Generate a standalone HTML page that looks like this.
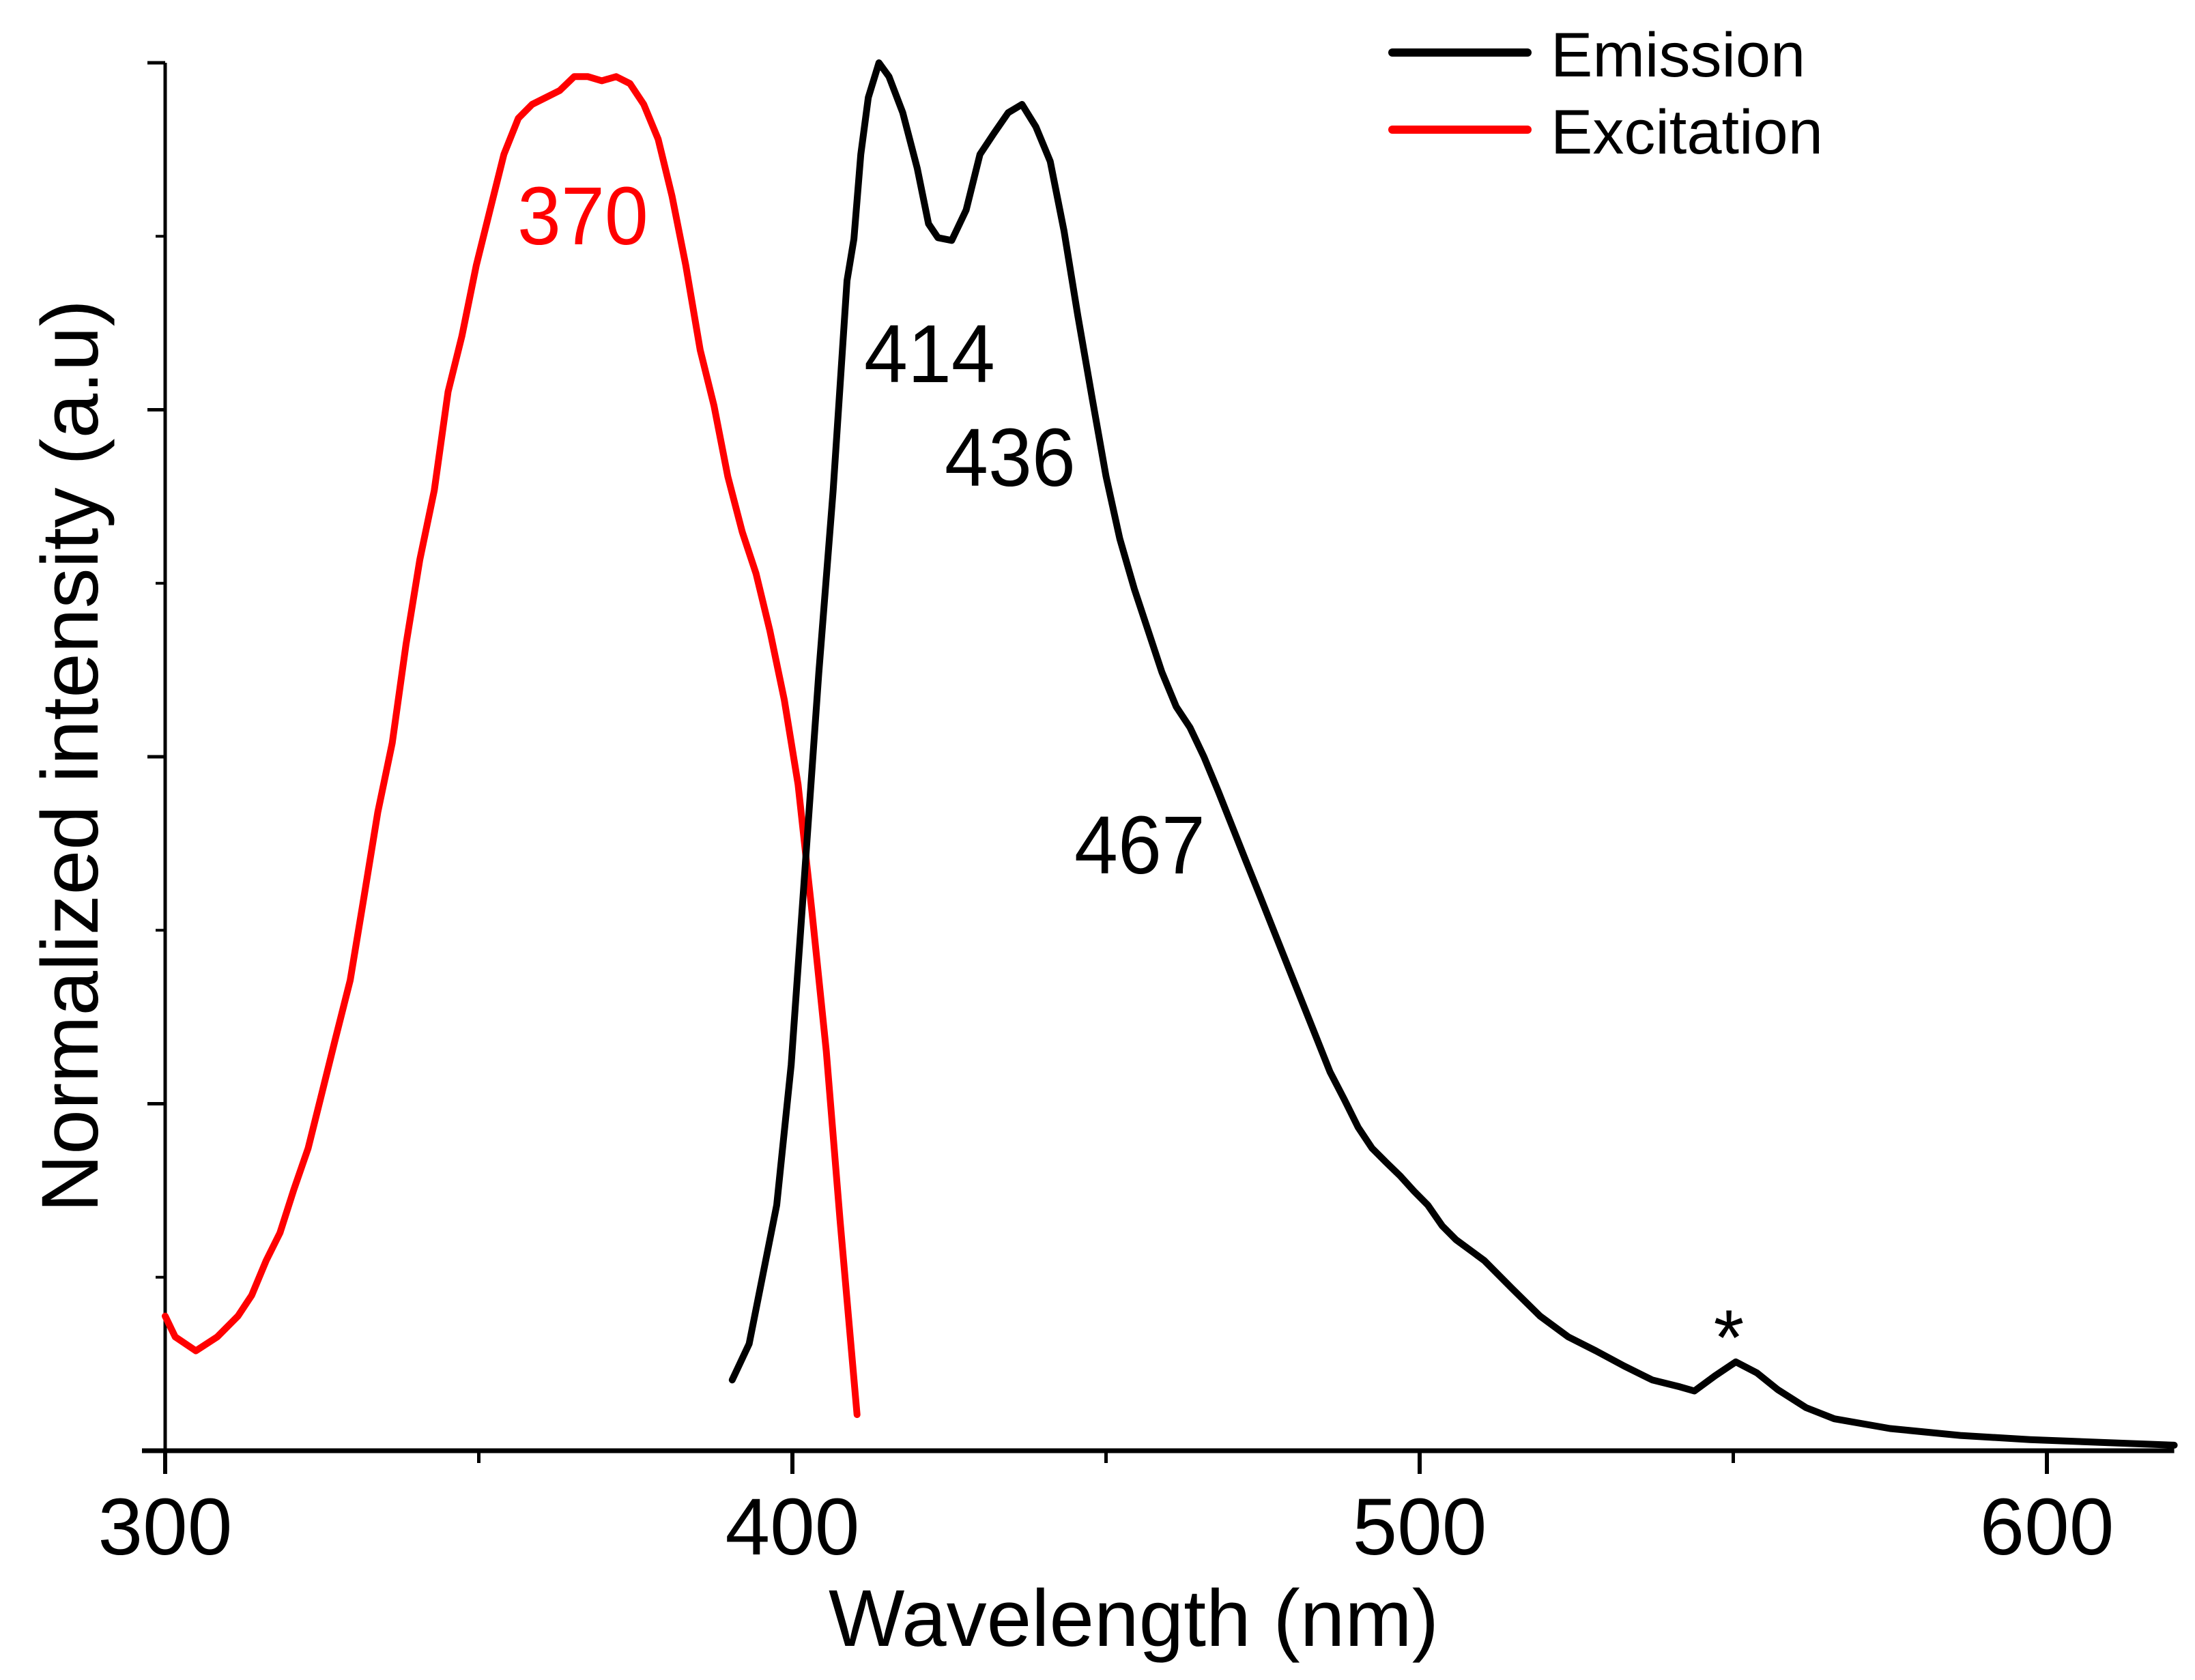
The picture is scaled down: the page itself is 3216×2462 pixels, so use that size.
<!DOCTYPE html>
<html><head><meta charset="utf-8"><style>
html,body{margin:0;padding:0;background:#fff;}
svg{display:block;font-family:"Liberation Sans",Arial,sans-serif;}
</style></head><body>
<svg id="chart" width="3216" height="2462" viewBox="0 0 3216 2462" xmlns="http://www.w3.org/2000/svg">
<rect width="3216" height="2462" fill="#fff"/>
<g id="axes"></g>
<g id="series"></g>
<text x="1661" y="2412" font-size="118" text-anchor="middle">Wavelength (nm)</text>
<text transform="translate(143,1108) rotate(-90)" font-size="118" text-anchor="middle">Normalized intensity (a.u)</text>
<g>
<line x1="2040" y1="77" x2="2238" y2="77" stroke="#000" stroke-width="12" stroke-linecap="round"/>
<text x="2272" y="112" font-size="92">Emission</text>
<line x1="2040" y1="190" x2="2238" y2="190" stroke="#f00" stroke-width="12" stroke-linecap="round"/>
<text x="2272" y="225" font-size="92">Excitation</text>
</g>
<text transform="translate(758,358) scale(1,1.05)" font-size="115" fill="#f00">370</text>
<text transform="translate(1266,560) scale(1,1.05)" font-size="115">414</text>
<text transform="translate(1384,712) scale(1,1.05)" font-size="115">436</text>
<text transform="translate(1574,1280) scale(1,1.05)" font-size="115">467</text>
<text x="2533" y="2000" font-size="115" text-anchor="middle">*</text>
</svg>
<script>
const xTicks = [300, 400, 500, 600];
const xMinorTicks = [350, 450, 550];
const yMajorTicks = [0, 0.25, 0.5, 0.75, 1];
const yMinorTicks = [0.125, 0.375, 0.625, 0.875];
const excWl = [300.0,301.6,304.9,308.3,311.6,313.8,316.1,318.3,320.5,322.8,325.0,327.2,329.5,331.7,333.9,336.2,338.4,340.6,342.9,345.1,347.3,349.6,351.8,354.0,356.3,358.5,360.7,362.9,365.2,367.4,369.6,371.9,374.1,376.3,378.6,380.8,383.0,385.3,387.5,389.7,392.0,394.2,396.4,398.7,400.9,403.1,405.4,407.6,410.3];
const excI = [0.097,0.082,0.072,0.082,0.097,0.112,0.137,0.157,0.188,0.218,0.258,0.298,0.339,0.399,0.460,0.510,0.581,0.642,0.692,0.763,0.803,0.854,0.894,0.934,0.960,0.970,0.975,0.980,0.990,0.990,0.987,0.990,0.985,0.970,0.945,0.904,0.854,0.793,0.753,0.702,0.662,0.632,0.591,0.541,0.480,0.389,0.288,0.166,0.026];
const emWl = [390.4,393.1,395.3,397.5,399.8,402.0,404.2,406.5,408.7,409.8,410.9,412.1,413.8,415.4,417.6,419.9,421.7,423.2,425.4,427.7,429.9,432.1,434.4,436.6,438.8,441.1,443.3,445.5,447.8,450.0,452.2,454.5,456.7,458.9,461.2,463.4,465.6,467.9,470.1,472.3,474.6,476.8,479.0,481.3,483.5,485.7,488.0,490.2,492.4,494.6,496.9,499.1,501.3,503.6,505.8,510.3,514.7,519.2,523.7,528.1,532.6,537.1,541.5,543.8,547.1,550.4,553.8,557.1,561.6,566.1,575.0,586.2,597.3,608.5,620.3];
const emI = [0.051,0.077,0.127,0.177,0.278,0.419,0.560,0.692,0.843,0.873,0.934,0.975,1.000,0.990,0.964,0.924,0.884,0.874,0.872,0.894,0.934,0.949,0.964,0.970,0.954,0.929,0.879,0.818,0.758,0.702,0.657,0.621,0.591,0.561,0.536,0.521,0.500,0.475,0.450,0.425,0.399,0.374,0.349,0.323,0.298,0.273,0.253,0.233,0.218,0.208,0.198,0.187,0.177,0.162,0.152,0.137,0.117,0.097,0.082,0.072,0.061,0.051,0.046,0.043,0.054,0.064,0.056,0.044,0.031,0.023,0.016,0.011,0.008,0.006,0.004];

const NS = "http://www.w3.org/2000/svg";
const X0 = 242, XPER = 9.19, Y0 = 2126, YH = 2034;
function xs(w){ return X0 + (w - 300) * XPER; }
function ys(v){ return Y0 - v * YH; }
function mk(tag, attrs, parent){
  const e = document.createElementNS(NS, tag);
  for (const k in attrs) e.setAttribute(k, attrs[k]);
  parent.appendChild(e);
  return e;
}
const axes = document.getElementById('axes');
const series = document.getElementById('series');

let el = mk('line', {x1: X0, y1: ys(1), x2: X0, y2: Y0 + 34, stroke: '#000', 'stroke-width': 5}, axes);


el = mk('line', {x1: X0 - 34, y1: Y0, x2: xs(620.3), y2: Y0, stroke: '#000', 'stroke-width': 7}, axes);



xTicks.forEach(t => {
  const tk = mk('line', {x1: xs(t), y1: Y0, x2: xs(t), y2: Y0 + 34, stroke: '#000', 'stroke-width': 6}, axes);
  
  
  const lb = mk('text', {x: xs(t), y: 2278, 'font-size': 118, 'text-anchor': 'middle'}, axes);
  lb.textContent = t;
  
  
});
xMinorTicks.forEach(t => {
  const tk = mk('line', {x1: xs(t), y1: Y0, x2: xs(t), y2: Y0 + 18, stroke: '#000', 'stroke-width': 5}, axes);
  
  
});
yMajorTicks.forEach(t => {
  const tk = mk('line', {x1: X0 - 26, y1: ys(t), x2: X0, y2: ys(t), stroke: '#000', 'stroke-width': 5}, axes);
  
  
});
yMinorTicks.forEach(t => {
  const tk = mk('line', {x1: X0 - 14, y1: ys(t), x2: X0, y2: ys(t), stroke: '#000', 'stroke-width': 4}, axes);
  
  
});

function pathOf(wl, iv){
  return wl.map((w, i) => (i ? 'L' : 'M') + xs(w).toFixed(1) + ',' + ys(iv[i]).toFixed(1)).join(' ');
}
el = mk('path', {d: pathOf(excWl, excI), fill: 'none', stroke: '#f00', 'stroke-width': 10, 'stroke-linejoin': 'round', 'stroke-linecap': 'round'}, series);


el = mk('path', {d: pathOf(emWl, emI), fill: 'none', stroke: '#000', 'stroke-width': 10, 'stroke-linejoin': 'round', 'stroke-linecap': 'round'}, series);


</script>
</body></html>
